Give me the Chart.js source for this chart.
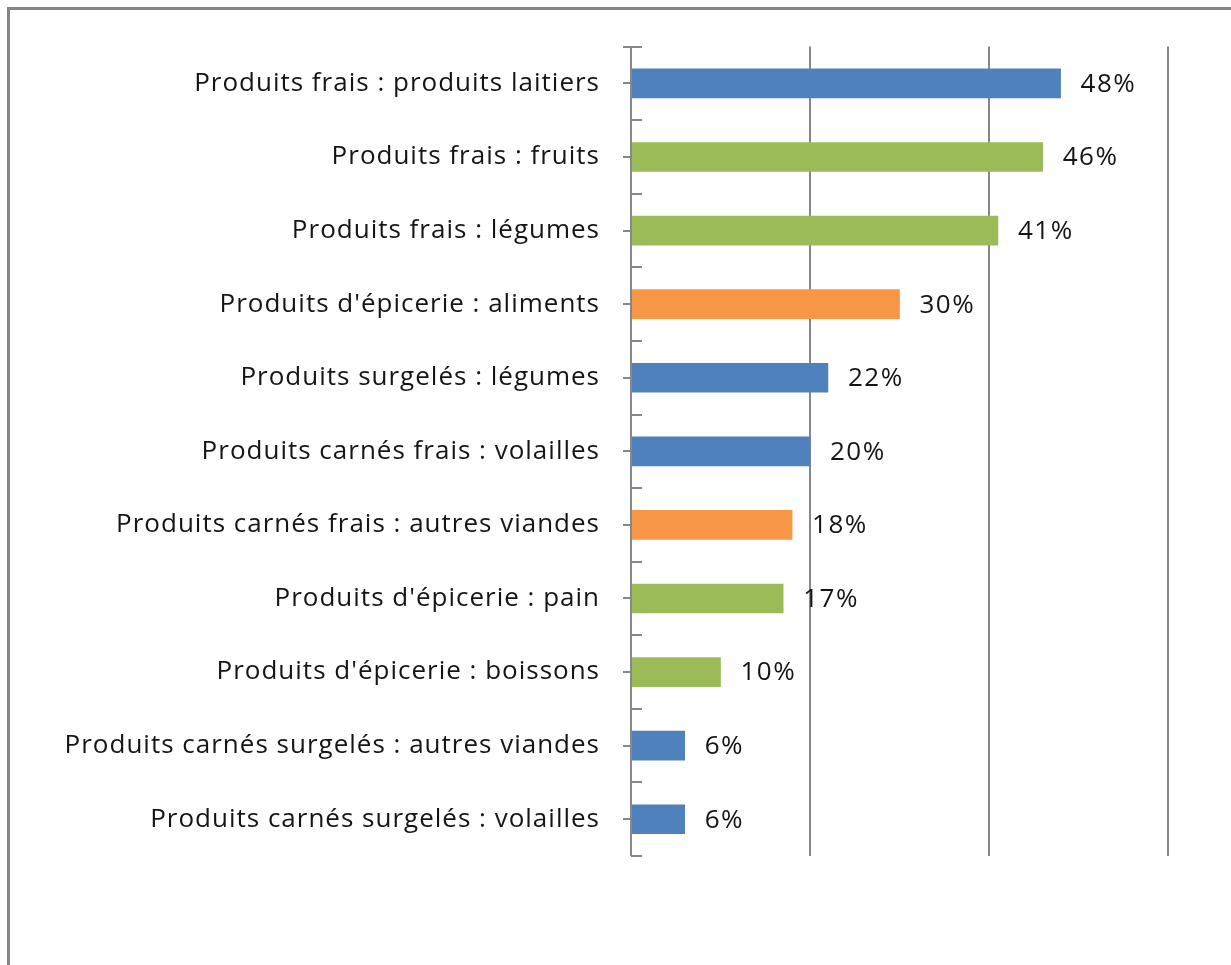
<!DOCTYPE html>
<html>
<head>
<meta charset="utf-8">
<script src="https://cdn.jsdelivr.net/npm/chart.js@4/dist/chart.umd.min.js"></script>
<style>
html,body{margin:0;padding:0;background:#fff;}
#wrap{position:relative;width:1231px;height:965px;}
</style>
</head>
<body>
<div id="wrap"><canvas id="c" width="1231" height="965"></canvas></div>
<script>
const categories = [
  "Produits frais : produits laitiers",
  "Produits frais : fruits",
  "Produits frais : légumes",
  "Produits d'épicerie : aliments",
  "Produits surgelés : légumes",
  "Produits carnés frais : volailles",
  "Produits carnés frais : autres viandes",
  "Produits d'épicerie : pain",
  "Produits d'épicerie : boissons",
  "Produits carnés surgelés : autres viandes",
  "Produits carnés surgelés : volailles"
];
const values = [48, 46, 41, 30, 22, 20, 18, 17, 10, 6, 6];
const colorGroups = ["blue","green","green","orange","blue","blue","orange","green","green","blue","blue"];
const xTicks = [0, 20, 40, 60];

const palette = {blue:"#4F81BD", green:"#9BBB59", orange:"#F79646"};
const FONT = "'Open Sans', sans-serif";
const GRID = "#878787";
const TEXT = "#151515";

const decor = {
  id: 'decor',
  beforeDraw(chart) {
    const ctx = chart.ctx;
    ctx.save();
    ctx.fillStyle = '#fff';
    ctx.fillRect(0, 0, chart.width, chart.height);
    ctx.strokeStyle = '#858585';
    ctx.lineWidth = 3;
    ctx.beginPath();
    ctx.moveTo(8.5, chart.height);
    ctx.lineTo(8.5, 8.5);
    ctx.lineTo(chart.width, 8.5);
    ctx.stroke();
    ctx.restore();
    ctx.letterSpacing = '1px';
  },
  afterDatasetsDraw(chart) {
    const ctx = chart.ctx;
    const y = chart.scales.y;
    const x = chart.scales.x;
    const x0 = x.getPixelForValue(0);
    ctx.save();
    ctx.strokeStyle = GRID;
    ctx.lineWidth = 2;
    ctx.beginPath();
    ctx.moveTo(x0, y.top);
    ctx.lineTo(x0, y.bottom);
    for (let i = 0; i <= categories.length; i++) {
      const py = Math.round(y.getPixelForValue(i - 0.5));
      ctx.moveTo(x0 - (i === 0 ? 8 : 0), py);
      ctx.lineTo(x0 + 11, py);
    }
    for (let i = 0; i < categories.length; i++) {
      const py = Math.round(y.getPixelForValue(i));
      ctx.moveTo(x0 - 8, py);
      ctx.lineTo(x0, py);
    }
    ctx.stroke();
    ctx.fillStyle = TEXT;
    ctx.font = '26px ' + FONT;
    ctx.letterSpacing = '1.5px';
    ctx.textBaseline = 'middle';
    ctx.textAlign = 'left';
    const meta = chart.getDatasetMeta(0);
    meta.data.forEach((bar, i) => {
      ctx.fillText(values[i] + '%', bar.x + 20, bar.y + 1);
    });
    ctx.restore();
  }
};

new Chart(document.getElementById('c'), {
  type: 'bar',
  data: {
    labels: categories,
    datasets: [{
      data: values,
      backgroundColor: colorGroups.map(g => palette[g]),
      borderWidth: 0,
      barThickness: 29
    }]
  },
  options: {
    indexAxis: 'y',
    responsive: false,
    animation: false,
    layout: {padding: {top: 44, right: 63, bottom: 109, left: 0}},
    plugins: {legend: {display: false}, tooltip: {enabled: false}},
    scales: {
      x: {
        min: 0, max: 60,
        afterBuildTicks(scale) { scale.ticks = xTicks.map(v => ({value: v})); },
        afterFit(scale) { scale.height = 0; },
        ticks: {display: false},
        border: {display: false},
        grid: {
          drawTicks: false,
          color: (c) => c.tick && c.tick.value === 0 ? 'rgba(0,0,0,0)' : GRID,
          lineWidth: 2
        }
      },
      y: {
        afterFit(scale) { scale.width = 631; },
        border: {display: false},
        grid: {display: false, drawTicks: false},
        ticks: {
          padding: 31,
          autoSkip: false,
          color: TEXT,
          font: {family: FONT, size: 26}
        }
      }
    }
  },
  plugins: [decor]
});
</script>
</body>
</html>
